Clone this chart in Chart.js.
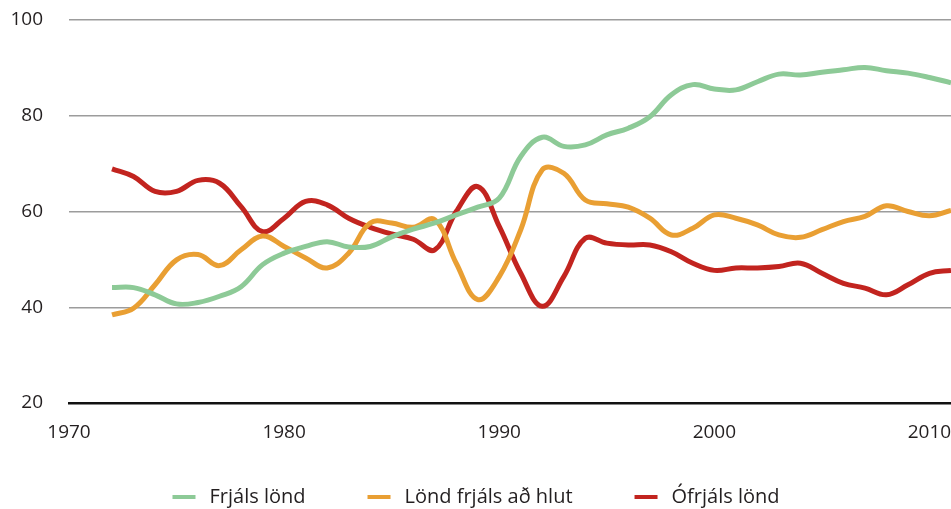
<!DOCTYPE html>
<html lang="is">
<head>
    <meta charset="UTF-8">
    <title>Frjáls lönd</title>
    <script src="https://cdn.jsdelivr.net/npm/chart.js"></script>
    <style>
        html, body { margin: 0; padding: 0; background: #fff; }
        #wrap { width: 951px; height: 509px; position: relative; }
    </style>
</head>
<body>
<div id="wrap"><canvas id="chart"></canvas></div>

<script>
    // gögn lesin af myndinni
    const years = [1972, 1973, 1974, 1975, 1976, 1977, 1978, 1979, 1980, 1981,
                   1982, 1983, 1984, 1985, 1986, 1987, 1988, 1989, 1990, 1991,
                   1992, 1993, 1994, 1995, 1996, 1997, 1998, 1999, 2000, 2001,
                   2002, 2003, 2004, 2005, 2006, 2007, 2008, 2009, 2010, 2011];

    const frjals = [44.1, 44.1, 42.6, 40.7, 41.0, 42.3, 44.3, 48.9, 51.3, 52.7,
                    53.7, 52.6, 52.7, 54.7, 56.3, 57.6, 59.3, 60.9, 62.8, 71.5,
                    75.5, 73.6, 73.9, 76.0, 77.4, 79.8, 84.4, 86.5, 85.6, 85.4,
                    87.1, 88.7, 88.5, 89.1, 89.6, 90.1, 89.4, 88.9, 88.0, 86.9];

    const adHluta = [38.4, 39.8, 44.7, 49.9, 51.0, 48.7, 52.0, 54.9, 52.7, 50.3,
                     48.2, 51.3, 57.6, 57.6, 56.7, 58.3, 49.2, 41.6, 46.4, 56.2,
                     68.7, 68.0, 62.4, 61.6, 60.9, 58.6, 55.1, 56.5, 59.3, 58.6,
                     57.2, 55.1, 54.6, 56.2, 57.9, 59.0, 61.2, 60.0, 59.1, 60.2];

    const ofrjals = [68.9, 67.3, 64.2, 64.2, 66.5, 65.9, 61.0, 55.8, 58.6, 62.1,
                     61.4, 58.6, 56.7, 55.3, 54.2, 52.0, 60.0, 65.2, 56.9, 47.1,
                     40.2, 46.4, 54.4, 53.4, 53.0, 53.0, 51.6, 49.2, 47.7, 48.2,
                     48.2, 48.5, 49.2, 47.1, 45.0, 44.0, 42.6, 44.7, 47.1, 47.7];

    const seriesNames = ['Frjáls lönd', 'Lönd frjáls að hlut', 'Ófrjáls lönd'];
    const seriesColors = ['#8dca97', '#e99f33', '#c2241f'];
    const yTicks = [20, 40, 60, 80, 100];
    const xTicks = [1970, 1980, 1990, 2000, 2010];

    const FONT = '"Open Sans", "Noto Sans", sans-serif';
    const TEXT = '#231f20';

    function toPoints(vals) {
        return vals.map((v, i) => ({ x: years[i], y: v }));
    }

    // teiknar skýringar neðst, miðjað
    const bottomLegend = {
        id: 'bottomLegend',
        afterDraw(chart) {
            const ctx = chart.ctx;
            const lineW = 23, gapText = 14, gapItem = 62, y = 497;
            ctx.save();
            ctx.font = '20px ' + FONT;
            const widths = seriesNames.map(t => ctx.measureText(t).width);
            let total = 0;
            widths.forEach((w, i) => { total += lineW + gapText + w + (i < widths.length - 1 ? gapItem : 0); });
            let x = 476 - total / 2;
            seriesNames.forEach((name, i) => {
                ctx.fillStyle = seriesColors[i];
                ctx.fillRect(x, y - 2, lineW, 4);
                ctx.fillStyle = TEXT;
                ctx.textBaseline = 'middle';
                ctx.textAlign = 'left';
                ctx.fillText(name, x + lineW + gapText, y);
                x += lineW + gapText + widths[i] + gapItem;
            });
            ctx.restore();
        }
    };

    const ctx = document.getElementById('chart').getContext('2d');
    const chart = new Chart(ctx, {
        type: 'line',
        data: {
            datasets: [frjals, adHluta, ofrjals].map((vals, i) => ({
                label: seriesNames[i],
                data: toPoints(vals),
                borderColor: seriesColors[i],
                backgroundColor: seriesColors[i],
                borderWidth: 5,
                pointRadius: 0,
                tension: 0.4,
                fill: false
            }))
        },
        options: {
            responsive: true,
            maintainAspectRatio: false,
            animation: false,
            layout: { padding: { top: 20, right: 0, bottom: 56, left: 0 } },
            plugins: {
                legend: { display: false },
                tooltip: { enabled: false }
            },
            scales: {
                x: {
                    type: 'linear',
                    min: 1970,
                    max: 2011,
                    afterBuildTicks: s => { s.ticks = xTicks.map(v => ({ value: v })); },
                    afterFit: s => { s.height = 50; s.paddingLeft = 0; s.paddingRight = 0; },
                    grid: { display: false, drawTicks: false },
                    border: { display: true, color: '#111', width: 2.5 },
                    ticks: {
                        padding: 18,
                        color: TEXT,
                        font: { family: FONT, size: 19 },
                        maxRotation: 0,
                        callback: v => String(v)
                    }
                },
                y: {
                    min: 20,
                    max: 100,
                    afterBuildTicks: s => { s.ticks = yTicks.map(v => ({ value: v })); },
                    afterFit: s => { s.width = 69; s.paddingTop = 0; s.paddingBottom = 0; },
                    grid: {
                        drawTicks: false,
                        color: c => c.tick && c.tick.value === 20 ? 'rgba(0,0,0,0)' : '#9c9c9c',
                        lineWidth: 1.5
                    },
                    border: { display: false },
                    ticks: {
                        padding: 26,
                        color: TEXT,
                        font: { family: FONT, size: 19 },
                        callback: v => String(v)
                    }
                }
            }
        },
        plugins: [bottomLegend]
    });
</script>
</body>
</html>
